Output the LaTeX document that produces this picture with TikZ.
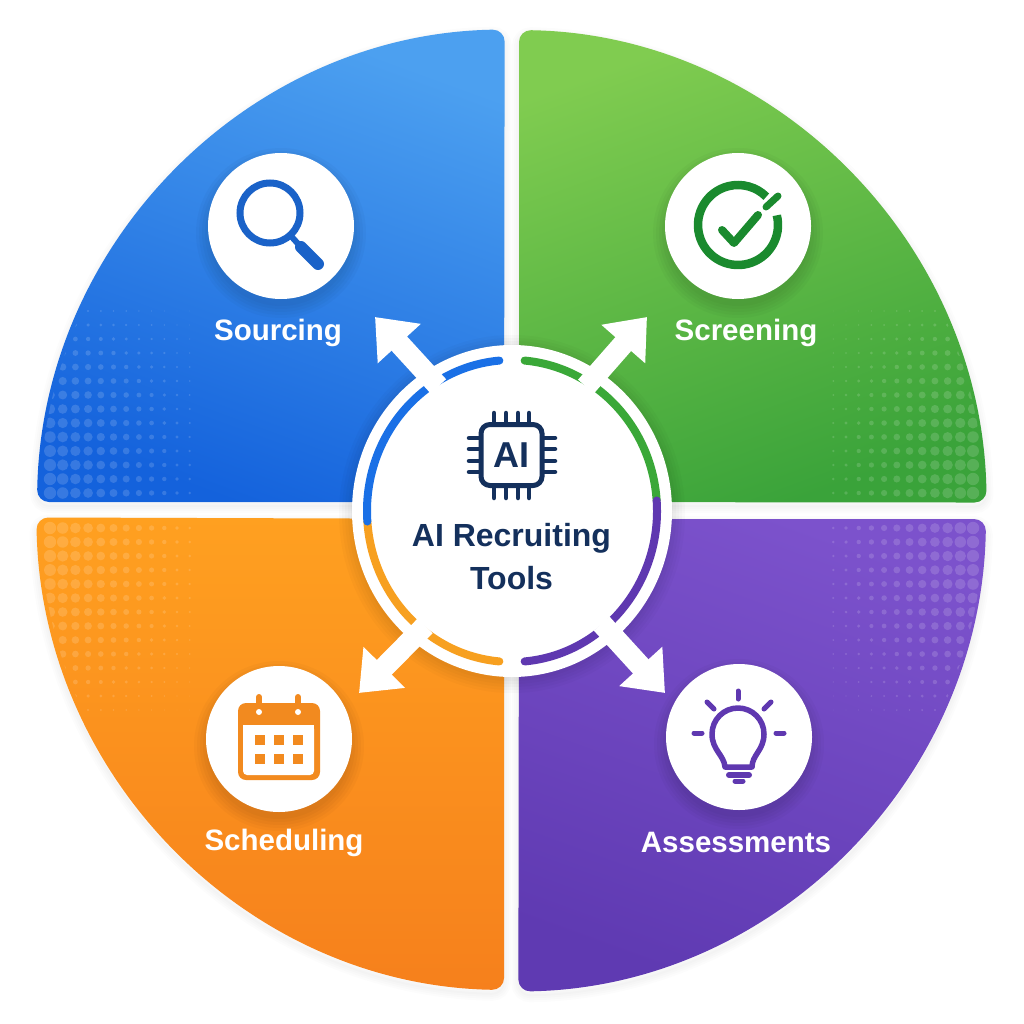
\documentclass[tikz,border=0pt]{standalone}
\usepackage{fontspec}
\setmainfont{Liberation Sans}
\usetikzlibrary{arrows.meta,positioning,shapes.geometric}
\definecolor{navy}{HTML}{14305C}
\definecolor{bluetop}{HTML}{4CA0F0}
\definecolor{bluelow}{HTML}{1462DC}
\definecolor{bluedark}{HTML}{1A62C8}
\definecolor{bluering}{HTML}{1A70E6}
\definecolor{greentop}{HTML}{80CC50}
\definecolor{greenlow}{HTML}{3AA33A}
\definecolor{greendark}{HTML}{1A8A2E}
\definecolor{greenring}{HTML}{3AA838}
\definecolor{orangetop}{HTML}{FFA020}
\definecolor{orangelow}{HTML}{F6801C}
\definecolor{orangedark}{HTML}{F28A1F}
\definecolor{orangering}{HTML}{F7A020}
\definecolor{purpletop}{HTML}{7C52CC}
\definecolor{purplelow}{HTML}{5F3AB2}
\definecolor{purpledark}{HTML}{5F38B0}

\begin{document}
\begin{tikzpicture}[x=1pt,y=-1pt,node distance=105pt]
\tikzstyle{disc}=[circle,minimum size=146pt,inner sep=0pt,fill=white]
\tikzstyle{lbl}=[text=white,font=\fontsize{29.5}{36}\selectfont\bfseries]
\tikzstyle{ring}=[line width=8pt,line cap=round]
\tikzstyle{spoke}=[line width=21pt,white,shorten <=-20pt,-{Triangle[width=56pt,length=36pt]}]
\tikzstyle{pin}=[navy,line width=4.5pt,line cap=round]
\useasboundingbox (0,0) rectangle (1024,1024);
\fill[white] (0,0) rectangle (1024,1024);

% quadrants
\def\bluepath{(504,502) -- (37,502) arc[start angle=179,end angle=91,x radius=476pt,y radius=481pt] -- cycle}
\def\greenpath{(519,502) -- (519,30) arc[start angle=89,end angle=1,x radius=476pt,y radius=481pt] -- cycle}
\def\orangepath{(504,519) -- (504,990) arc[start angle=269,end angle=181,x radius=476pt,y radius=481pt] -- cycle}
\def\purplepath{(519,519) -- (986,519) arc[start angle=-1,end angle=-89,x radius=476pt,y radius=481pt] -- cycle}
\foreach \w in {2,6,10,14}{
\draw[black,opacity=.012,line width=\w pt,yshift=-4pt,rounded corners=12pt] \bluepath;
\draw[black,opacity=.012,line width=\w pt,yshift=-4pt,rounded corners=12pt] \greenpath;
\draw[black,opacity=.012,line width=\w pt,yshift=-4pt,rounded corners=12pt] \orangepath;
\draw[black,opacity=.012,line width=\w pt,yshift=-4pt,rounded corners=12pt] \purplepath;
}
\shade[rounded corners=12pt,top color=bluetop,bottom color=bluelow,shading angle=-20] \bluepath;
\shade[rounded corners=12pt,top color=greentop,bottom color=greenlow,shading angle=20] \greenpath;
\shade[rounded corners=12pt,top color=orangetop,bottom color=orangelow] \orangepath;
\shade[rounded corners=12pt,top color=purpletop,bottom color=purplelow,shading angle=-20] \purplepath;

% halftone corners
\begin{scope}
\clip (512,510.5) ellipse[x radius=473pt,y radius=478pt];
\foreach \cx/\cy/\sx/\sy in {50/493/1/-1,973/493/-1/-1,50/528/1/1,973/528/-1/1}{
\foreach \i in {0,...,11}{
\foreach \j in {0,...,13}{
\pgfmathsetmacro{\rad}{6.2*(1-\i/14)*(1-\j*\j/220)}
\fill[white,opacity=.15] (\cx+\sx*\i*12.7,\cy+\sy*\j*14) circle[radius=\rad pt];
}}}
\end{scope}

% icon discs
\foreach \px/\py in {281/226,738/226,279/739,739/737}{
\foreach \w in {1,4,7,10,13}{
\fill[black,opacity=.025] (\px,\py+7) circle[radius=72pt+\w pt];
}}
\node (srcdisc) [disc] at (281,226) {};
\node (scrdisc) [disc] at (738,226) {};
\node (schdisc) [disc] at (279,739) {};
\node (assdisc) [disc] at (739,737) {};
\node (srclbl) [lbl,below of=srcdisc,xshift=-3pt,yshift=-2pt] {Sourcing};
\node (scrlbl) [lbl,below of=scrdisc,xshift=8pt,yshift=-2pt] {Screening};
\node (schlbl) [lbl,below of=schdisc,xshift=5pt,yshift=1pt] {Scheduling};
\node (asslbl) [lbl,below of=assdisc,xshift=-3pt] {Assessments};

% magnifier
\draw[bluedark,line width=7pt] (270,213) circle[radius=30pt];
\draw[bluedark,line width=6pt] (291,236) -- (300,246);
\draw[bluedark,line width=12pt,line cap=round] (301,247) -- (318,264);

% check
\draw[greendark,line width=8.5pt] (738,225) ++(14:40pt) arc[start angle=14,end angle=-315,radius=40pt];
\draw[greendark,line width=7pt,line cap=round] (766,207) -- (778,196);
\draw[greendark,line width=8pt,line cap=round,line join=round] (722,230) -- (734,243) -- (758,215);

% calendar
\fill[orangedark,rounded corners=8pt] (238,703) rectangle (320,780);
\fill[white,rounded corners=4pt] (243,725) rectangle (314,775);
\fill[white] (243,725) rectangle (314,732);
\foreach \xx in {259,298}{
\draw[orangedark,line width=6pt,line cap=round] (\xx,697) -- (\xx,712);
\fill[white] (\xx,712) circle[radius=3pt];
}
\foreach \xx in {260,279,298}{
\foreach \yy in {740,759}{
\fill[orangedark] (\xx-5,\yy-5) rectangle (\xx+5,\yy+5);
}}

% bulb
\draw[purpledark,line width=5.5pt,line join=round] (725,767) .. controls (724,755) and (712,750) .. (712,734) arc[start angle=180,end angle=0,radius=26pt] .. controls (764,750) and (752,755) .. (752,767) -- cycle;
\draw[purpledark,line width=6pt,line cap=round] (729,775) -- (749,775);
\draw[purpledark,line width=5pt,line cap=round] (735,781) -- (743,781);
\draw[purpledark,line width=5pt,line cap=round] (738,691) -- (738,699);
\draw[purpledark,line width=5pt,line cap=round] (707,702) -- (714,709);
\draw[purpledark,line width=5pt,line cap=round] (771,702) -- (764,709);
\draw[purpledark,line width=5pt,line cap=round] (694,733) -- (702,733);
\draw[purpledark,line width=5pt,line cap=round] (776,733) -- (784,733);

% hub
\foreach \w in {1,4,7,10,13}{
\fill[black,opacity=.02] (512,514) ellipse[x radius=160pt+\w pt,y radius=166pt+\w pt];
}
\node (hub) [ellipse,minimum width=320pt,minimum height=332pt,inner sep=0pt,fill=white] at (512,511) {};
\draw[ring,orangering] (hub.center) ++(184:145pt and 151pt) arc[start angle=184,end angle=265,x radius=145pt,y radius=151pt];
\draw[ring,bluering] (hub.center) ++(95:145pt and 151pt) arc[start angle=95,end angle=184,x radius=145pt,y radius=151pt];
\draw[ring,greenring] (hub.center) ++(85:145pt and 151pt) arc[start angle=85,end angle=4,x radius=145pt,y radius=151pt];
\draw[ring,purpledark] (hub.center) ++(4:145pt and 151pt) arc[start angle=4,end angle=-85,x radius=145pt,y radius=151pt];

% arrows
\coordinate (nwtip) at (375,317);
\coordinate (netip) at (647,317);
\coordinate (swtip) at (359,693);
\coordinate (setip) at (665,693);
\draw[spoke] (hub.122.6) -- (nwtip);
\draw[spoke] (hub.58) -- (netip);
\draw[spoke] (hub.232) -- (swtip);
\draw[spoke] (hub.-51) -- (setip);

% chip
\node (chip) [draw=navy,line width=5pt,rounded corners=9pt,minimum size=61pt,inner sep=0pt,text=navy,font=\fontsize{36}{40}\selectfont\bfseries] at (511.5,455) {AI};
\foreach \xx in {494,506,518,529}{
\draw[pin] (\xx,413) -- (\xx,422);
\draw[pin] (\xx,488) -- (\xx,498);
}
\foreach \yy in {438,449,461,472}{
\draw[pin] (469,\yy) -- (479,\yy);
\draw[pin] (544,\yy) -- (555,\yy);
}
\node (hubtxt) [below of=chip,yshift=3pt,text=navy,align=center,font=\fontsize{32}{43}\selectfont\bfseries] {AI Recruiting\\Tools};
\end{tikzpicture}
\end{document}
